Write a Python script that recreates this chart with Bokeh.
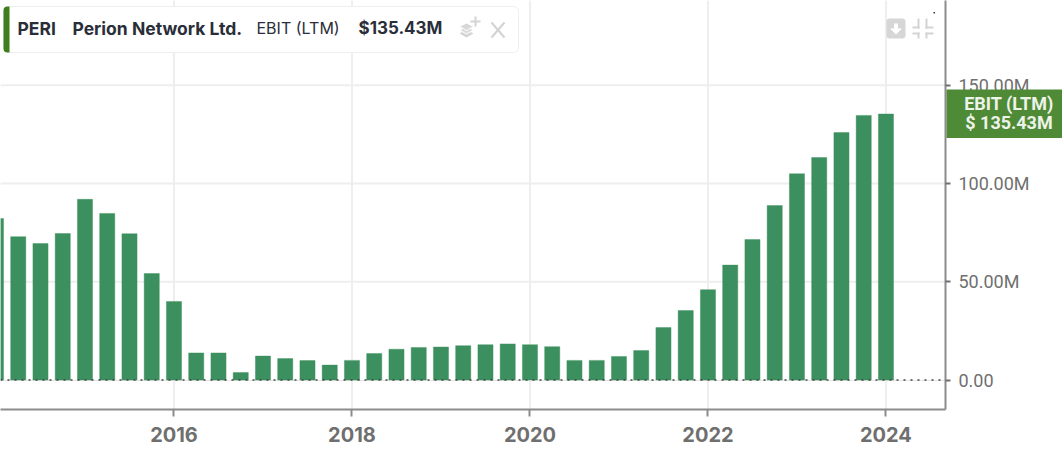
from bokeh.plotting import figure
from bokeh.layouts import row
from bokeh.models import (BoxAnnotation, ColumnDataSource, FixedTicker, Label, LinearAxis,
                          PolyAnnotation, Range1d, Span)
from bokeh.embed import file_html
from bokeh.resources import INLINE

# --- data ---
quarters = [2014 + i * 0.25 for i in range(41)]
ebit_musd = [82.2, 73.0, 69.5, 74.6, 92.0, 84.8, 74.5, 54.2, 40.0, 13.8, 13.8, 3.8,
             12.2, 10.9, 9.9, 7.6, 10.0, 13.5, 15.7, 16.6, 16.8, 17.5, 18.0, 18.4,
             18.0, 17.0, 10.0, 10.0, 12.0, 15.0, 26.7, 35.4, 46.0, 58.5, 71.5, 88.8,
             105.0, 113.3, 126.0, 134.7, 135.43]
x_ticks = [2016, 2018, 2020, 2022, 2024]
y_ticks = [0, 50, 100, 150]
y_tick_labels = ["0.00", "50.00M", "100.00M", "150.00M"]
last_value = 135.43

GREY = "#6f6f6f"
AXIS = "#8c8c8c"
GRID = "#eeeeee"
TAG = "#4f8a36"
BAR = "#3c8f5e"
INK = "#2a2e39"
ICON = "#d4d4d4"

p = figure(width=1062, height=450, frame_width=945, frame_height=409,
           x_range=Range1d(2014.0506, 2024.669), y_range=Range1d(-15.0, 193.2),
           output_backend="svg", toolbar_location=None, min_border=0,
           min_border_left=0, min_border_top=0, min_border_right=117, min_border_bottom=41,
           x_axis_location=None, y_axis_location=None, outline_line_color=None)

# axes
xaxis = LinearAxis(ticker=FixedTicker(ticks=x_ticks), major_label_overrides={t: str(t) for t in x_ticks},
                   axis_line_color=AXIS, axis_line_width=2, major_tick_line_color=AXIS,
                   major_tick_line_width=2, major_tick_in=0, major_tick_out=7, minor_tick_line_color=None,
                   major_label_standoff=10, major_label_text_color=GREY,
                   major_label_text_font="Inter", major_label_text_font_size="20px",
                   major_label_text_font_style="bold")
yaxis = LinearAxis(ticker=FixedTicker(ticks=y_ticks),
                   major_label_overrides=dict(zip(y_ticks, y_tick_labels)),
                   axis_line_color=AXIS, axis_line_width=2, major_tick_line_color=GREY,
                   major_tick_line_width=2, major_tick_in=0, major_tick_out=5, minor_tick_line_color=None,
                   major_label_standoff=8, major_label_text_color=GREY,
                   major_label_text_font="Roboto", major_label_text_font_size="18px")
p.add_layout(xaxis, "below")
p.add_layout(yaxis, "right")

# grid
for t in x_ticks:
    p.add_layout(Span(location=t, dimension="height", line_color=GRID, line_width=2, level="underlay"))
for t in y_ticks[1:]:
    p.add_layout(Span(location=t, dimension="width", line_color=GRID, line_width=2, level="underlay"))

# bars
src = ColumnDataSource(dict(x=quarters, top=ebit_musd))
p.vbar(x="x", top="top", bottom=0, width=0.17, source=src, fill_color=BAR, fill_alpha=1,
       line_color=BAR, line_alpha=0.4, line_width=1)

# zero line
p.add_layout(Span(location=0, dimension="width", line_color="#444444", line_width=1.5, line_dash="2 5"))


def box(l, r, t, b, target=p, **kw):
    target.add_layout(BoxAnnotation(left=l, right=r, top=t, bottom=b, left_units="canvas", right_units="canvas",
                                    top_units="canvas", bottom_units="canvas", level="overlay", line_alpha=1, **kw))


def text(s, x, y, size="17.5px", font="Inter", style="bold", color=INK, align="left", target=p):
    target.add_layout(Label(x=x, y=y, x_units="canvas", y_units="canvas", text=s, text_font=font,
                            text_font_size=size, text_font_style=style, text_color=color,
                            text_align=align, text_baseline="middle", level="overlay"))


def poly(xs, ys, fill=ICON, line=None, width=1.0, falpha=1.0):
    p.add_layout(PolyAnnotation(xs=xs, ys=ys, xs_units="canvas", ys_units="canvas", fill_color=fill,
                                fill_alpha=falpha, line_color=line, line_alpha=1, line_width=width, level="overlay"))


# legend pill
box(3, 518, 6, 52, fill_color="white", fill_alpha=1, line_color="#eeeeee", line_width=1, border_radius=5)
box(3, 9, 6, 52, fill_color="#3f7d1d", fill_alpha=1, line_color=None,
    border_radius=dict(top_left=4, bottom_left=4, top_right=0, bottom_right=0))
text("PERI", 17, 27.5)
text("Perion Network Ltd.", 72, 27.5)
text("EBIT (LTM)", 256, 27.5, size="16px", style="normal")
text(f"${last_value:.2f}M", 358, 27.5, size="17px")

# layers-plus icon
poly([459, 466, 473, 466], [33, 29.5, 33, 37])
poly([459, 466, 473, 466], [29.5, 26, 29.5, 33.5], fill="#dcdcdc", line="white")
poly([459, 466, 473, 466], [26, 22.5, 26, 30], fill="#d8d8d8", line="white")
box(470, 480, 20, 22, fill_color=ICON, fill_alpha=1, line_color=None)
box(474, 476, 16, 26, fill_color=ICON, fill_alpha=1, line_color=None)
# close icon
poly([491, 504, 491], [22, 37, 22], fill=ICON, line=ICON, width=2.2, falpha=0)
poly([504, 491, 504], [22, 37, 22], fill=ICON, line=ICON, width=2.2, falpha=0)

# download button
box(886, 905, 18, 38, fill_color="#d6d6d6", fill_alpha=1, line_color=None, border_radius=3)
poly([893.5, 897.5, 897.5, 901.5, 895.5, 889.5, 893.5], [23, 23, 28, 28, 34, 28, 28], fill="white")
# compress icon
for vx, hl, hr, vt, vb, hy in [(917, 912, 919, 18, 28, 26), (925, 925, 933, 18, 28, 26),
                               (917, 912, 919, 32, 38, 32), (925, 925, 933, 32, 38, 32)]:
    box(vx, vx + 2, vt, vb, fill_color=ICON, fill_alpha=1, line_color=None)
    box(hl, hr, hy, hy + 2, fill_color=ICON, fill_alpha=1, line_color=None)
# stray dot
box(933, 934.5, 11.5, 13, fill_color="#333333", fill_alpha=1, line_color=None)

# value tag on the axis (separate small figure, laid over the axis strip)
tag = figure(width=116, height=49, frame_width=116, frame_height=49, output_backend="svg",
             toolbar_location=None, min_border=0, min_border_left=0, min_border_right=0,
             min_border_top=0, min_border_bottom=0,
             x_axis_location=None, y_axis_location=None, outline_line_color=None,
             background_fill_color=TAG, border_fill_color=TAG,
             x_range=Range1d(0, 1), y_range=Range1d(0, 1))
tag.grid.visible = False
tag.styles = {"margin-left": "-116px", "margin-top": "89px"}
tag.align = "start"
text("EBIT (LTM)", 62.5, 13.5, size="18px", font="Roboto", color="#eef3ea", align="center", target=tag)
text(f"$ {last_value:.2f}M", 62.5, 32.5, size="18px", font="Roboto", color="#eef3ea", align="center", target=tag)

html = file_html(row(p, tag), INLINE)
open("out.html", "w").write(html)
